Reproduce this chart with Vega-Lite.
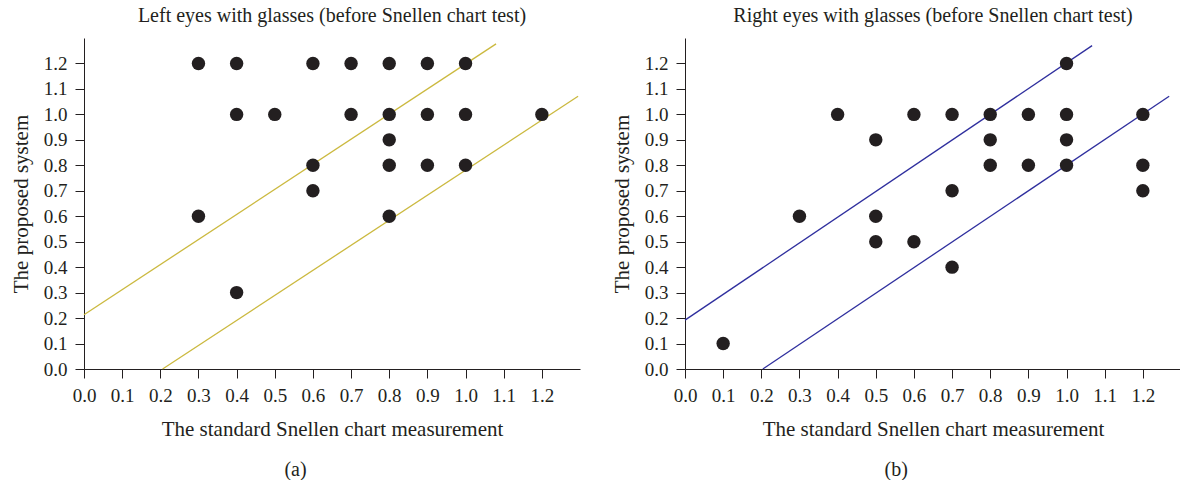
{
  "$schema": "https://vega.github.io/schema/vega-lite/v6.json",
  "background": "white",
  "padding": {"left": 10, "top": 6, "right": 0, "bottom": 0},
  "spacing": 30,
  "config": {
    "font": "Liberation Serif",
    "view": {"stroke": null},
    "axis": {
      "grid": false,
      "labelFontSize": 19,
      "titleFontSize": 21,
      "titleFontWeight": "normal",
      "tickSize": 9,
      "labelPadding": 8,
      "domainColor": "#231f20",
      "tickColor": "#231f20",
      "labelColor": "#231f20",
      "titleColor": "#231f20",
      "labelFlush": false,
      "labelOverlap": false,
      "format": ".1f"
    },
    "axisX": {"titlePadding": 13, "labelPadding": 8},
    "axisY": {"titlePadding": 12},
    "title": {"fontSize": 20, "fontWeight": "normal", "color": "#231f20", "font": "Liberation Serif"}
  },
  "datasets": {
    "leftPts": [
      {"x": 0.3, "y": 1.2}, {"x": 0.4, "y": 1.2}, {"x": 0.6, "y": 1.2}, {"x": 0.7, "y": 1.2}, {"x": 0.8, "y": 1.2}, {"x": 0.9, "y": 1.2}, {"x": 1.0, "y": 1.2},
      {"x": 0.4, "y": 1.0}, {"x": 0.5, "y": 1.0}, {"x": 0.7, "y": 1.0}, {"x": 0.8, "y": 1.0}, {"x": 0.9, "y": 1.0}, {"x": 1.0, "y": 1.0}, {"x": 1.2, "y": 1.0},
      {"x": 0.8, "y": 0.9},
      {"x": 0.6, "y": 0.8}, {"x": 0.8, "y": 0.8}, {"x": 0.9, "y": 0.8}, {"x": 1.0, "y": 0.8},
      {"x": 0.6, "y": 0.7},
      {"x": 0.3, "y": 0.6}, {"x": 0.8, "y": 0.6},
      {"x": 0.4, "y": 0.3}
    ],
    "rightPts": [
      {"x": 1.0, "y": 1.2},
      {"x": 0.4, "y": 1.0}, {"x": 0.6, "y": 1.0}, {"x": 0.7, "y": 1.0}, {"x": 0.8, "y": 1.0}, {"x": 0.9, "y": 1.0}, {"x": 1.0, "y": 1.0}, {"x": 1.2, "y": 1.0},
      {"x": 0.5, "y": 0.9}, {"x": 0.8, "y": 0.9}, {"x": 1.0, "y": 0.9},
      {"x": 0.8, "y": 0.8}, {"x": 0.9, "y": 0.8}, {"x": 1.0, "y": 0.8}, {"x": 1.2, "y": 0.8},
      {"x": 0.7, "y": 0.7}, {"x": 1.2, "y": 0.7},
      {"x": 0.3, "y": 0.6}, {"x": 0.5, "y": 0.6},
      {"x": 0.5, "y": 0.5}, {"x": 0.6, "y": 0.5},
      {"x": 0.7, "y": 0.4},
      {"x": 0.1, "y": 0.1}
    ],
    "leftLines": [
      {"line": "upper", "x": 0.0, "y": 0.213},
      {"line": "upper", "x": 1.08, "y": 1.277},
      {"line": "lower", "x": 0.206, "y": 0.0},
      {"line": "lower", "x": 1.295, "y": 1.071}
    ],
    "rightLines": [
      {"line": "upper", "x": 0.0, "y": 0.192},
      {"line": "upper", "x": 1.067, "y": 1.27},
      {"line": "lower", "x": 0.204, "y": 0.0},
      {"line": "lower", "x": 1.269, "y": 1.071}
    ]
  },
  "hconcat": [
    {
      "title": {"text": "(a)", "orient": "bottom", "anchor": "middle", "frame": "bounds", "offset": 21},
      "vconcat": [
        {
          "width": 496,
          "height": 331,
          "title": {"text": "Left eyes with glasses (before Snellen chart test)", "anchor": "middle", "frame": "group", "offset": 12},
          "encoding": {
            "x": {"field": "x", "type": "quantitative", "scale": {"domain": [0, 1.3], "nice": false}, "axis": {"values": [0, 0.1, 0.2, 0.3, 0.4, 0.5, 0.6, 0.7, 0.8, 0.9, 1.0, 1.1, 1.2], "title": "The standard Snellen chart measurement"}},
            "y": {"field": "y", "type": "quantitative", "scale": {"domain": [0, 1.3], "nice": false}, "axis": {"values": [0, 0.1, 0.2, 0.3, 0.4, 0.5, 0.6, 0.7, 0.8, 0.9, 1.0, 1.1, 1.2], "title": "The proposed system"}}
          },
          "layer": [
            {
              "data": {"name": "leftLines"},
              "mark": {"type": "line", "color": "#cbb93f", "strokeWidth": 1.3},
              "encoding": {"detail": {"field": "line", "type": "nominal"}}
            },
            {
              "data": {"name": "leftPts"},
              "mark": {"type": "circle", "color": "#231f20", "opacity": 1, "size": 180},
              "encoding": {}
            }
          ]
        }
      ]
    },
    {
      "title": {"text": "(b)", "orient": "bottom", "anchor": "middle", "frame": "bounds", "offset": 21},
      "vconcat": [
        {
          "width": 496,
          "height": 331,
          "title": {"text": "Right eyes with glasses (before Snellen chart test)", "anchor": "middle", "frame": "group", "offset": 12},
          "encoding": {
            "x": {"field": "x", "type": "quantitative", "scale": {"domain": [0, 1.3], "nice": false}, "axis": {"values": [0, 0.1, 0.2, 0.3, 0.4, 0.5, 0.6, 0.7, 0.8, 0.9, 1.0, 1.1, 1.2], "title": "The standard Snellen chart measurement"}},
            "y": {"field": "y", "type": "quantitative", "scale": {"domain": [0, 1.3], "nice": false}, "axis": {"values": [0, 0.1, 0.2, 0.3, 0.4, 0.5, 0.6, 0.7, 0.8, 0.9, 1.0, 1.1, 1.2], "title": "The proposed system"}}
          },
          "layer": [
            {
              "data": {"name": "rightLines"},
              "mark": {"type": "line", "color": "#2f2f9e", "strokeWidth": 1.3},
              "encoding": {"detail": {"field": "line", "type": "nominal"}}
            },
            {
              "data": {"name": "rightPts"},
              "mark": {"type": "circle", "color": "#231f20", "opacity": 1, "size": 180},
              "encoding": {}
            }
          ]
        }
      ]
    }
  ]
}
